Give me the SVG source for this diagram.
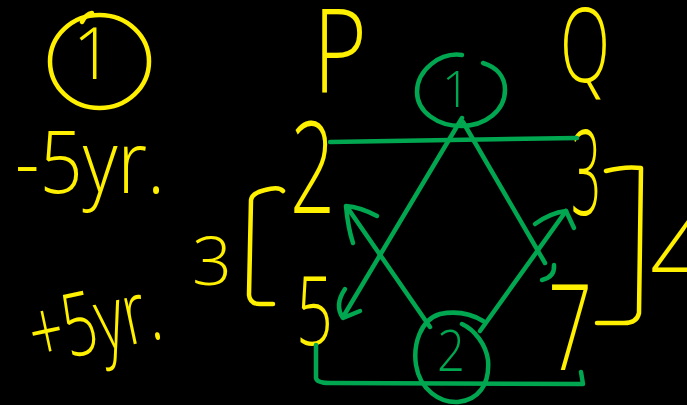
<svg xmlns="http://www.w3.org/2000/svg" width="687" height="405" viewBox="0 0 687 405">
<style>
.y{fill:#FFF000;font-family:"Open Sans","Liberation Sans",sans-serif;font-weight:300}
.g{fill:#00A650;font-family:"Open Sans","Liberation Sans",sans-serif;font-weight:300}
.ys{fill:none;stroke:#FFF000;stroke-width:4.5;stroke-linecap:round;stroke-linejoin:round}
.gs{fill:none;stroke:#00A650;stroke-width:4.5;stroke-linecap:round;stroke-linejoin:round}
</style>
<rect width="687" height="405" fill="#000"/>
<g id="case1">
<ellipse class="ys" cx="99.5" cy="61.5" rx="49.5" ry="46.5"/>
<path class="ys" d="M82,22 Q86,14 92,13"/>
<text class="y" x="93" y="79" font-size="71" text-anchor="middle">1</text>
</g>
<g id="minus5">
<text class="y" x="15" y="193" font-size="86" textLength="150" lengthAdjust="spacingAndGlyphs">-5yr.</text>
</g>
<g id="plus5">
<text class="y" x="30" y="352" font-size="88" textLength="132" lengthAdjust="spacingAndGlyphs" transform="rotate(-12 95 330)">+5yr.</text>
</g>
<g id="P"><text class="y" x="313" y="92" font-size="116" textLength="54" lengthAdjust="spacingAndGlyphs">P</text></g>
<g id="Q"><text class="y" x="560" y="82" font-size="104" textLength="50" lengthAdjust="spacingAndGlyphs">Q</text></g>
<g id="P2"><text class="y" x="290" y="213" font-size="128" textLength="45" lengthAdjust="spacingAndGlyphs">2</text></g>
<g id="P5"><text class="y" x="296" y="345" font-size="96" textLength="37" lengthAdjust="spacingAndGlyphs">5</text></g>
<g id="Q3"><text class="y" x="571" y="215" font-size="118" textLength="30" lengthAdjust="spacingAndGlyphs">3</text></g>
<g id="Q7"><text class="y" x="548" y="370" font-size="120" textLength="44" lengthAdjust="spacingAndGlyphs">7</text></g>
<g id="bracket3">
<path class="ys" d="M283,191 Q279,186 265,190 Q252,193 251,200 L249,295 Q250,304 260,304 L273,304"/>
<text class="y" x="192" y="285" font-size="67" textLength="40" lengthAdjust="spacingAndGlyphs">3</text>
</g>
<g id="bracket4">
<path class="ys" d="M606,171 Q625,166 641,168 L639,313 Q637,323 624,323 L597,323"/>
<text class="y" x="650" y="290" font-size="100">4</text>
</g>
<g id="node1">
<path class="gs" d="M462,55 C440,52 417,70 417,92 C417,112 438,126 461,126 C486,126 505,110 505,90 C505,76 496,67 483,63"/>
<text class="g" x="456" y="107" font-size="49" text-anchor="middle">1</text>
</g>
<g id="node2">
<path class="gs" d="M483,321 C470,313 455,311 440,314 C420,320 413,345 416,365 C420,390 440,403 458,402 C478,400 490,385 488,360 C486,345 475,330 462,324"/>
<text class="g" x="437" y="371" font-size="57" textLength="28" lengthAdjust="spacingAndGlyphs">2</text>
</g>
<g id="connectors">
<path class="gs" d="M330,142 Q450,140 577,138"/>
<path class="gs" d="M462,118 L343,317"/>
<path class="gs" d="M345,289 Q334,305 343,318 L360,311"/>
<path class="gs" d="M430,327 L347,207"/>
<path class="gs" d="M377,216 Q360,207 346,206 Q348,228 353,243"/>
<path class="gs" d="M480,331 L566,211"/>
<path class="gs" d="M535,224 Q550,213 566,211 L574,228"/>
<path class="gs" d="M463,122 L545,263"/>
<path class="gs" d="M554,265 Q555,277 542,280"/>
<path class="gs" d="M316,345 L316,378 Q317,383 330,383 L583,384 L581,372"/>
</g>
</svg>
